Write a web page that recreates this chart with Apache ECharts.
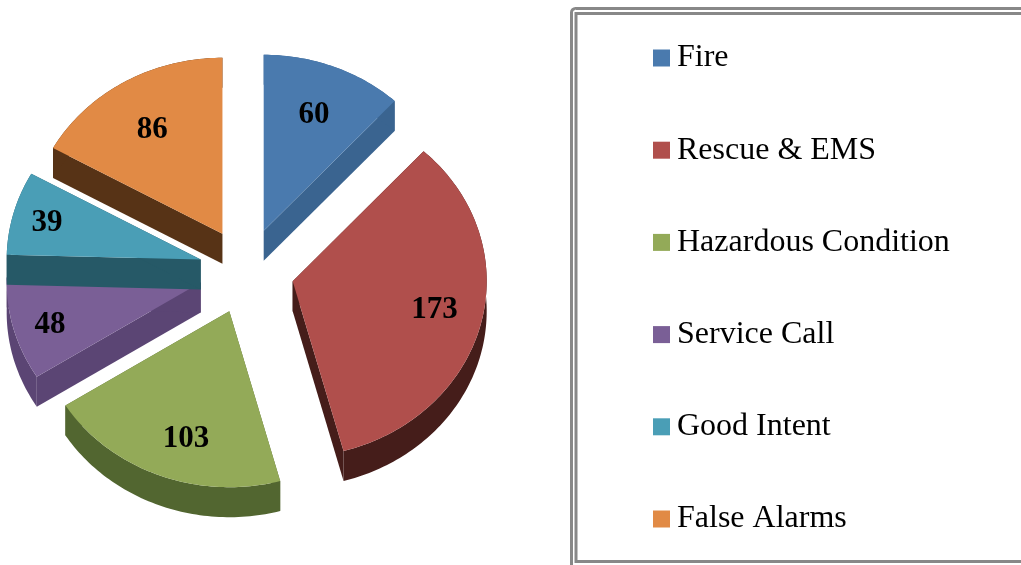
<!DOCTYPE html>
<html>
<head>
<meta charset="utf-8">
<title>Incident types</title>
<script src="https://cdn.jsdelivr.net/npm/echarts@6/dist/echarts.min.js"></script>
<style>
html, body { margin: 0; padding: 0; background: #fff; }
#chart { width: 1021px; height: 565px; }
</style>
</head>
<body>
<div id="chart"></div>
<script>
var categories = ['Fire', 'Rescue & EMS', 'Hazardous Condition', 'Service Call', 'Good Intent', 'False Alarms'];
var values = [60, 173, 103, 48, 39, 86];
var topColors = ['#4a7aae', '#b04f4c', '#93aa58', '#7a5f96', '#4a9eb6', '#e18a45'];
var sideColors = ['#3a6490', '#451d1a', '#526630', '#5b4574', '#265967', '#573316'];
// where each number sits: share of the radius, share of the slice sweep
var labelRadius = [0.718, 0.747, 0.75, 0.81, 0.822, 0.703];
var labelSweep = [0.5, 0.484, 0.446, 0.47, 0.5, 0.49];

// pie geometry, the pie is tilted so y radius is smaller
var center = [246.5, 271];
var radiusX = 194;
var radiusY = 176;
var depth = 30;
var explode = 0.245;

var myChart = echarts.init(document.getElementById('chart'));

var total = values.reduce(function (a, b) { return a + b; }, 0);

function sliceAngles(index) {
    var before = 0;
    for (var i = 0; i < index; i++) {
        before += values[i];
    }
    return [before / total * Math.PI * 2, (before + values[index]) / total * Math.PI * 2];
}

function renderSlice(index) {
    return function (params, api) {
        var angles = sliceAngles(index);
        var mid = (angles[0] + angles[1]) / 2;
        var apex = [
            center[0] + explode * radiusX * Math.sin(mid),
            center[1] - explode * radiusY * Math.cos(mid)
        ];
        var arc = [];
        var steps = Math.ceil((angles[1] - angles[0]) / 0.02);
        for (var i = 0; i <= steps; i++) {
            var t = angles[0] + (angles[1] - angles[0]) * i / steps;
            arc.push([apex[0] + radiusX * Math.sin(t), apex[1] - radiusY * Math.cos(t)]);
        }
        var lower = arc.map(function (p) { return [p[0], p[1] + depth]; });
        var first = arc[0];
        var last = arc[arc.length - 1];
        var sideStyle = { fill: sideColors[index] };
        var labelAngle = angles[0] + (angles[1] - angles[0]) * labelSweep[index];

        return {
            type: 'group',
            children: [{
                type: 'polygon',
                shape: { points: [apex, first, [first[0], first[1] + depth], [apex[0], apex[1] + depth]] },
                style: sideStyle
            }, {
                type: 'polygon',
                shape: { points: [apex, last, [last[0], last[1] + depth], [apex[0], apex[1] + depth]] },
                style: sideStyle
            }, {
                type: 'polygon',
                shape: { points: arc.concat(lower.slice().reverse()) },
                style: sideStyle
            }, {
                type: 'polygon',
                shape: { points: [apex].concat(arc) },
                style: { fill: topColors[index] }
            }, {
                type: 'text',
                x: apex[0] + labelRadius[index] * radiusX * Math.sin(labelAngle),
                y: apex[1] - labelRadius[index] * radiusY * Math.cos(labelAngle) + 2,
                style: {
                    text: String(api.value(0)),
                    fill: '#000',
                    font: 'bold 31px "Liberation Serif"',
                    align: 'center',
                    verticalAlign: 'middle'
                }
            }]
        };
    };
}

var option = {
    animation: false,
    legend: {
        orient: 'vertical',
        left: 653,
        top: 38.5,
        itemWidth: 17,
        itemHeight: 17,
        itemGap: 53.2,
        padding: 0,
        icon: 'rect',
        selectedMode: false,
        data: categories,
        textStyle: {
            color: '#000',
            fontSize: 32,
            lineHeight: 36,
            fontFamily: 'Liberation Serif',
            padding: [3, 0, 0, 2]
        }
    },
    graphic: [{
        type: 'rect',
        shape: { x: 571.5, y: 8.5, width: 480, height: 580, r: 4 },
        style: { fill: 'none', stroke: '#888', lineWidth: 3 }
    }, {
        type: 'rect',
        shape: { x: 576, y: 13.5, width: 480, height: 548 },
        style: { fill: 'none', stroke: '#888', lineWidth: 3 }
    }],
    series: categories.map(function (name, i) {
        return {
            type: 'custom',
            name: name,
            coordinateSystem: 'none',
            silent: true,
            itemStyle: { color: topColors[i] },
            renderItem: renderSlice(i),
            data: [[values[i]]]
        };
    })
};

myChart.setOption(option);

window.addEventListener('resize', function () {
    myChart.resize();
});
</script>
</body>
</html>
